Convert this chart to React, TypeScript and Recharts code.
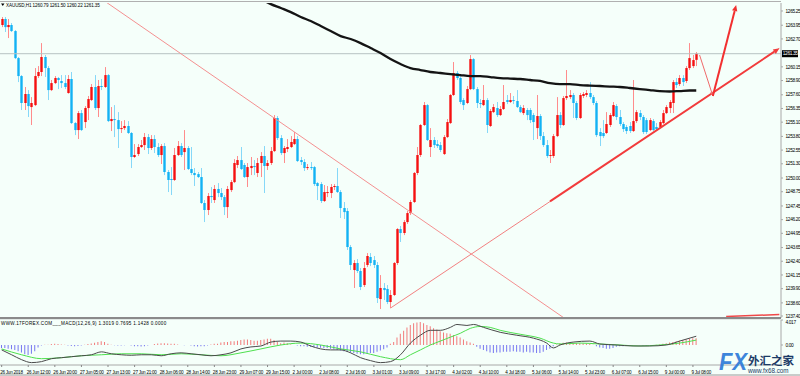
import { ComposedChart, Bar, Line, XAxis, YAxis, ReferenceLine, Cell } from "recharts";

// XAUUSD H1 candles, [open, high, low, close]
const CANDLES: [number, number, number, number][] = [
  [1263.97, 1264.70, 1263.78, 1264.52], [1264.52, 1264.70, 1263.33, 1263.78], [1263.78, 1264.52, 1262.78, 1263.97],
  [1263.97, 1264.15, 1263.33, 1263.42], [1263.42, 1263.51, 1260.86, 1260.95], [1260.95, 1261.05, 1258.76, 1259.31],
  [1259.31, 1259.40, 1256.21, 1256.85], [1256.85, 1258.31, 1256.21, 1257.67], [1257.67, 1258.03, 1255.57, 1256.57],
  [1256.48, 1257.39, 1254.84, 1256.85], [1256.66, 1260.04, 1256.57, 1259.31], [1259.31, 1260.22, 1259.13, 1259.68],
  [1259.68, 1262.32, 1259.31, 1261.05], [1261.05, 1261.23, 1259.22, 1260.04], [1260.04, 1260.22, 1257.12, 1258.03],
  [1258.03, 1258.95, 1257.94, 1258.67], [1258.67, 1259.31, 1258.58, 1259.13], [1259.13, 1259.22, 1258.12, 1258.95],
  [1258.86, 1259.40, 1258.22, 1258.67], [1258.67, 1259.40, 1258.12, 1258.31], [1257.76, 1259.40, 1257.70, 1259.04],
  [1259.04, 1259.68, 1254.93, 1255.02], [1255.02, 1255.11, 1253.92, 1254.38], [1254.38, 1256.12, 1253.56, 1255.93],
  [1255.93, 1256.21, 1254.29, 1254.38], [1255.11, 1256.57, 1254.56, 1256.39], [1256.39, 1257.49, 1255.29, 1257.21],
  [1257.12, 1258.58, 1257.03, 1258.31], [1258.31, 1259.40, 1256.21, 1256.39], [1256.39, 1258.95, 1255.57, 1258.40],
  [1258.40, 1259.04, 1258.03, 1258.31], [1258.31, 1260.13, 1258.22, 1259.40], [1259.40, 1259.49, 1255.11, 1255.20],
  [1255.20, 1256.48, 1254.29, 1255.39], [1255.39, 1256.66, 1253.74, 1255.29], [1255.29, 1256.02, 1252.74, 1254.47],
  [1254.47, 1255.20, 1254.11, 1254.56], [1254.56, 1255.29, 1254.38, 1254.75], [1254.75, 1255.20, 1254.02, 1254.11],
  [1254.11, 1254.20, 1250.91, 1251.92], [1251.92, 1253.10, 1251.83, 1252.10], [1252.19, 1253.10, 1252.01, 1252.83],
  [1252.83, 1253.47, 1252.74, 1253.01], [1253.01, 1254.11, 1252.56, 1253.74], [1253.74, 1254.02, 1252.19, 1252.74],
  [1252.74, 1253.92, 1252.56, 1253.56], [1253.56, 1253.92, 1252.28, 1252.83], [1252.83, 1253.19, 1251.92, 1252.10],
  [1252.10, 1253.10, 1251.28, 1252.92], [1252.92, 1253.19, 1250.27, 1250.55], [1250.55, 1250.73, 1248.72, 1249.82],
  [1249.91, 1251.00, 1248.45, 1249.82], [1249.82, 1252.74, 1249.73, 1252.10], [1252.10, 1253.38, 1252.01, 1252.92],
  [1252.92, 1253.19, 1251.92, 1252.10], [1252.37, 1254.38, 1250.73, 1252.74], [1252.74, 1252.92, 1250.73, 1250.82],
  [1250.82, 1252.83, 1250.27, 1250.46], [1250.46, 1250.91, 1249.27, 1250.27], [1250.36, 1250.55, 1250.00, 1250.09],
  [1250.09, 1250.91, 1247.63, 1247.72], [1247.72, 1247.99, 1245.98, 1247.08], [1247.08, 1248.63, 1246.62, 1248.36],
  [1248.36, 1249.18, 1247.72, 1248.26], [1247.99, 1249.36, 1247.72, 1249.00], [1249.00, 1249.54, 1248.26, 1248.63],
  [1248.63, 1249.09, 1247.99, 1248.26], [1248.26, 1248.45, 1246.62, 1247.35], [1247.35, 1249.27, 1246.35, 1249.00],
  [1248.90, 1249.82, 1248.72, 1249.63], [1249.63, 1251.73, 1249.54, 1251.37], [1251.19, 1252.01, 1250.91, 1251.64],
  [1251.64, 1252.83, 1250.73, 1250.82], [1251.19, 1251.37, 1250.00, 1250.09], [1250.09, 1251.37, 1249.18, 1251.00],
  [1250.91, 1251.92, 1250.27, 1251.10], [1251.10, 1251.64, 1250.27, 1251.00], [1250.46, 1251.83, 1250.09, 1251.37],
  [1251.37, 1252.37, 1250.09, 1252.01], [1252.01, 1252.92, 1248.63, 1251.10], [1251.10, 1251.64, 1250.73, 1251.37],
  [1251.37, 1252.83, 1251.19, 1252.46], [1252.46, 1255.75, 1252.37, 1255.48], [1255.48, 1255.66, 1253.47, 1253.65],
  [1253.65, 1253.92, 1252.10, 1252.28], [1252.28, 1252.92, 1251.37, 1252.74], [1252.65, 1253.56, 1252.37, 1252.83],
  [1252.83, 1253.83, 1252.74, 1253.29], [1253.10, 1254.20, 1253.01, 1253.56], [1253.56, 1253.83, 1251.46, 1251.55],
  [1251.64, 1251.92, 1251.19, 1251.46], [1251.46, 1251.73, 1250.64, 1250.91], [1250.91, 1251.28, 1250.73, 1251.00],
  [1251.00, 1251.46, 1250.73, 1250.91], [1251.00, 1251.10, 1249.27, 1249.45], [1249.54, 1249.63, 1247.99, 1249.27],
  [1249.45, 1249.63, 1247.72, 1247.90], [1247.90, 1249.36, 1247.81, 1248.72], [1248.63, 1249.27, 1248.26, 1248.72],
  [1248.63, 1249.45, 1248.17, 1249.18], [1249.18, 1249.45, 1248.90, 1249.27], [1249.27, 1250.91, 1248.63, 1248.72],
  [1248.72, 1248.90, 1246.35, 1247.26], [1247.26, 1247.81, 1246.26, 1246.89], [1246.99, 1247.26, 1243.43, 1243.70],
  [1243.70, 1243.88, 1241.60, 1242.06], [1241.60, 1242.51, 1239.96, 1242.24], [1242.24, 1242.60, 1241.33, 1241.51],
  [1241.51, 1241.78, 1239.77, 1240.05], [1240.23, 1242.33, 1240.05, 1241.78], [1242.06, 1243.15, 1241.87, 1242.88],
  [1242.79, 1243.15, 1241.96, 1242.24], [1242.51, 1242.88, 1241.78, 1242.06], [1242.06, 1242.33, 1238.59, 1239.04],
  [1238.95, 1241.14, 1238.04, 1239.96], [1239.96, 1240.41, 1238.86, 1239.77], [1239.87, 1240.23, 1238.49, 1238.68],
  [1238.68, 1239.77, 1238.13, 1239.32], [1239.32, 1242.33, 1239.23, 1242.24], [1242.24, 1245.43, 1242.06, 1245.34],
  [1245.34, 1245.62, 1244.16, 1244.98], [1244.98, 1246.16, 1244.79, 1245.98], [1245.98, 1246.99, 1245.80, 1246.80],
  [1246.80, 1247.99, 1246.62, 1247.81], [1247.81, 1250.55, 1247.72, 1250.46], [1250.46, 1252.83, 1250.27, 1252.10],
  [1252.10, 1254.93, 1251.92, 1254.84], [1254.84, 1256.94, 1254.75, 1256.66], [1256.66, 1256.75, 1253.38, 1253.47],
  [1252.83, 1254.56, 1251.92, 1253.47], [1253.47, 1253.74, 1252.74, 1253.01], [1253.10, 1253.47, 1252.74, 1252.92],
  [1253.01, 1253.29, 1252.37, 1252.56], [1252.19, 1253.92, 1252.10, 1253.74], [1253.74, 1255.39, 1253.65, 1255.11],
  [1255.02, 1257.67, 1254.93, 1257.58], [1257.58, 1260.59, 1257.49, 1259.59], [1259.59, 1259.77, 1258.95, 1259.13],
  [1259.13, 1259.31, 1256.75, 1256.94], [1257.12, 1257.30, 1256.21, 1256.66], [1256.85, 1258.40, 1256.75, 1258.12],
  [1258.12, 1261.23, 1258.03, 1260.86], [1260.86, 1260.95, 1258.03, 1258.12], [1258.12, 1258.31, 1256.39, 1256.85],
  [1256.85, 1257.21, 1256.39, 1256.75], [1256.66, 1258.49, 1256.57, 1257.12], [1257.12, 1257.30, 1254.11, 1254.84],
  [1254.75, 1256.30, 1254.66, 1256.12], [1256.02, 1256.75, 1255.93, 1256.48], [1256.39, 1256.94, 1255.57, 1255.75],
  [1255.75, 1256.57, 1255.66, 1256.30], [1256.30, 1258.49, 1256.21, 1256.94], [1257.12, 1257.58, 1256.75, 1256.94],
  [1256.94, 1257.76, 1256.85, 1257.12], [1257.12, 1257.49, 1256.75, 1257.03], [1257.03, 1258.03, 1256.39, 1256.48],
  [1256.48, 1256.66, 1255.93, 1256.02], [1255.93, 1256.66, 1255.75, 1256.39], [1256.21, 1256.39, 1255.29, 1255.75],
  [1256.21, 1256.39, 1255.02, 1255.29], [1255.75, 1255.93, 1253.47, 1255.11], [1254.56, 1257.58, 1253.56, 1255.66],
  [1255.66, 1255.84, 1253.47, 1253.83], [1253.83, 1254.20, 1252.83, 1253.01], [1253.01, 1253.47, 1251.83, 1252.01],
  [1252.01, 1252.56, 1251.37, 1252.10], [1252.01, 1254.02, 1251.83, 1253.83], [1253.83, 1257.39, 1253.74, 1255.75],
  [1255.75, 1256.02, 1254.56, 1254.84], [1254.84, 1257.49, 1254.75, 1257.30], [1257.30, 1259.86, 1257.12, 1257.49],
  [1257.39, 1258.03, 1257.21, 1257.58], [1257.58, 1257.76, 1255.48, 1256.85], [1256.85, 1257.03, 1255.29, 1255.48],
  [1255.48, 1257.76, 1255.39, 1257.58], [1257.49, 1257.85, 1257.30, 1257.67], [1257.58, 1258.03, 1257.39, 1257.76],
  [1257.76, 1258.76, 1257.21, 1257.39], [1257.39, 1257.58, 1256.66, 1256.85], [1256.85, 1257.03, 1253.74, 1253.92],
  [1254.20, 1254.56, 1252.92, 1253.83], [1254.11, 1255.29, 1253.65, 1253.83], [1254.11, 1256.02, 1254.02, 1254.93],
  [1254.84, 1255.93, 1254.66, 1255.75], [1255.66, 1256.94, 1255.57, 1256.66], [1256.57, 1256.75, 1255.29, 1255.57],
  [1255.57, 1256.21, 1254.75, 1254.93], [1254.93, 1255.11, 1254.20, 1254.47], [1254.66, 1254.84, 1254.02, 1254.29],
  [1254.75, 1255.11, 1254.11, 1254.29], [1254.29, 1258.95, 1254.20, 1255.20], [1255.20, 1256.21, 1255.02, 1256.02],
  [1255.93, 1256.21, 1255.29, 1255.57], [1255.57, 1255.75, 1254.02, 1254.20], [1255.29, 1255.48, 1254.02, 1254.20],
  [1254.38, 1255.48, 1254.29, 1255.29], [1255.20, 1255.39, 1254.29, 1254.38], [1254.66, 1255.02, 1254.29, 1254.47],
  [1254.66, 1255.29, 1254.56, 1255.11], [1255.02, 1256.21, 1254.93, 1255.93], [1255.93, 1256.66, 1255.84, 1256.48],
  [1256.39, 1257.12, 1255.93, 1256.94], [1256.85, 1258.95, 1255.93, 1258.76], [1258.76, 1259.13, 1258.22, 1258.49],
  [1258.58, 1259.40, 1258.40, 1259.13], [1259.13, 1259.40, 1258.40, 1258.76], [1258.86, 1260.22, 1258.67, 1260.04],
  [1260.04, 1262.32, 1259.86, 1260.95], [1260.22, 1261.23, 1260.04, 1260.77], [1260.79, 1261.50, 1260.22, 1261.35],
];

// black moving average, [bar, price]
const MA_POINTS: [number, number][] = [
  [78, 1266.34], [81, 1265.88], [84, 1265.52], [87, 1265.15], [90, 1264.70], [93, 1264.33], [96, 1263.88],
  [99, 1263.42], [102, 1262.96], [105, 1262.69], [108, 1262.32], [111, 1261.87], [114, 1261.41], [117, 1260.86],
  [120, 1260.41], [123, 1260.04], [126, 1259.86], [129, 1259.68], [132, 1259.59], [135, 1259.49], [138, 1259.40],
  [141, 1259.31], [144, 1259.31], [147, 1259.22], [150, 1259.13], [153, 1259.08], [156, 1259.04], [159, 1258.95],
  [162, 1258.86], [165, 1258.67], [168, 1258.58], [171, 1258.58], [174, 1258.49], [177, 1258.44], [180, 1258.40],
  [183, 1258.35], [186, 1258.31], [189, 1258.22], [192, 1258.12], [195, 1258.03], [198, 1257.94], [201, 1257.90],
  [204, 1257.94], [207, 1257.99], [209, 1257.99],
];

// MACD histogram, one per bar
const HIST: number[] = [
  -0.5, -0.5, -0.6, -0.7, -0.8, -1.0, -1.2, -1.5, -1.6, -1.4, -1.0, -0.4, -0.1, 0.05, 0.05, 0.15, 0.2, 0.15, 0.1, 0.05,
  -0.1, -0.15, -0.2, -0.15, -0.1, 0.05, 0.15, 0.25, 0.35, 0.5, 0.6, 0.5, 0.2, 0.05, -0.05, -0.1, -0.1, -0.05, 0.0, -0.1,
  -0.2, -0.2, -0.25, -0.2, -0.1, 0.0, 0.15, 0.25, 0.3, 0.3, 0.25, 0.2, 0.2, 0.1, 0.0, -0.05, 0.0, -0.1, -0.2, -0.25,
  -0.2, -0.2, -0.1, 0.1, 0.2, 0.2, 0.4, 0.5, 0.5, 0.6, 0.6, 0.7, 0.8, 0.9, 0.9, 0.8, 0.7, 0.7, 0.8, 0.9,
  1.0, 1.0, 0.8, 0.5, 0.3, 0.4, 0.3, 0.1, 0.0, -0.1, -0.2, -0.2, -0.3, -0.3, -0.35, -0.4, -0.45, -0.5, -0.5, -0.6,
  -0.7, -0.8, -0.9, -1.0, -1.1, -1.2, -1.3, -1.4, -1.5, -1.5, -1.4, -1.3, -1.3, -1.1, -0.9, -0.7, -0.4, 0.2, 0.5, 1.2,
  1.8, 2.3, 2.8, 3.2, 3.5, 3.6, 3.7, 3.5, 3.2, 3.0, 2.7, 2.5, 2.2, 2.0, 1.9, 1.8, 1.6, 1.4, 1.2, 0.9,
  0.6, 0.4, 0.2, -0.3, -0.6, -0.8, -1.0, -1.2, -1.3, -1.2, -1.2, -1.1, -1.1, -1.1, -1.0, -1.1, -1.1, -1.2, -1.1, -1.2,
  -1.2, -1.3, -1.3, -1.1, -0.8, -0.6, -0.2, 0.1, 0.3, 0.35, 0.4, 0.35, 0.35, 0.3, 0.3, 0.25, 0.2, 0.15, 0.05, -0.2,
  -0.4, -0.5, -0.6, -0.6, -0.5, -0.3, -0.2, -0.2, -0.1, -0.1, -0.05, 0.0, -0.05, -0.1, -0.1, -0.05, 0.0, 0.05, 0.1, 0.2,
  0.3, 0.4, 0.5, 0.6, 0.7, 0.8, 0.9, 1.0, 1.1, 1.1,
];

const MACD_POINTS: [number, number][] = [
  [0, -0.79], [3, -1.57], [6, -2.36], [9, -2.83], [12, -2.67], [15, -2.2], [18, -2.04], [21, -1.88], [24, -1.73],
  [27, -1.57], [30, -1.1], [33, -1.41], [36, -1.57], [39, -1.65], [42, -1.57], [45, -1.57], [48, -1.73], [51, -1.41],
  [54, -1.26], [57, -1.41], [60, -1.57], [63, -1.73], [66, -1.57], [69, -1.26], [72, -0.63], [75, -0.31], [78, -0.16],
  [81, 0.47], [84, 0.63], [87, 0.63], [90, 0.47], [93, -0.16], [96, -0.63], [99, -0.79], [102, -0.79], [105, -1.26],
  [108, -2.04], [111, -2.51], [114, -2.83], [117, -2.67], [120, -1.57], [123, 0.31], [126, 1.57], [129, 2.36],
  [132, 2.36], [135, 2.83], [137, 3.3], [140, 3.14], [142, 3.3], [145, 2.83], [150, 2.04], [155, 1.57], [160, 1.1],
  [164, 0.31], [166, -0.47], [168, 0.0], [172, 0.47], [177, 0.63], [180, 0.16], [185, 0.0], [190, -0.16],
  [195, -0.16], [200, 0.0], [204, 0.63], [209, 1.41],
];

const SIGNAL_POINTS: [number, number][] = [
  [0, -0.63], [6, -1.57], [12, -2.2], [18, -2.04], [24, -1.73], [30, -1.57], [36, -1.41], [42, -1.41], [48, -1.57],
  [54, -1.41], [60, -1.57], [66, -1.73], [72, -1.26], [78, -0.63], [84, 0.0], [90, 0.31], [96, 0.0], [102, -0.63],
  [108, -1.1], [114, -1.88], [120, -2.36], [123, -1.57], [126, -0.79], [129, 0.0], [132, 0.63], [135, 1.26],
  [138, 1.88], [141, 2.67], [144, 2.98], [147, 2.83], [150, 2.36], [156, 1.73], [162, 1.1], [166, 0.31], [168, 0.16],
  [174, 0.31], [180, 0.16], [186, 0.0], [192, -0.16], [198, 0.0], [204, 0.31], [209, 0.79],
];

const PRICE_TICKS = [
  1265.25, 1263.95, 1262.7, 1260.15, 1258.9, 1257.6, 1256.35, 1255.1, 1253.8, 1252.55, 1251.3, 1250.0,
  1248.75, 1247.45, 1246.2, 1244.95, 1243.65, 1242.4, 1241.15, 1239.9, 1238.6, 1237.4,
];
const MACD_TICKS = [4.017, 0];

// one label every 8 bars, starting at bar 0
const TIME_LABELS = [
  "26 Jun 2018", "26 Jun 12:00", "26 Jun 20:00", "27 Jun 05:00", "27 Jun 13:00", "27 Jun 21:00", "28 Jun 06:00",
  "28 Jun 14:00", "28 Jun 23:00", "29 Jun 07:00", "29 Jun 15:00", "2 Jul 00:00", "2 Jul 08:00", "2 Jul 16:00",
  "3 Jul 01:00", "3 Jul 09:00", "3 Jul 17:00", "4 Jul 02:00", "4 Jul 10:00", "4 Jul 18:00", "5 Jul 06:00",
  "5 Jul 14:00", "5 Jul 23:00", "6 Jul 07:00", "6 Jul 15:00", "9 Jul 00:00", "9 Jul 08:00",
];

const LAST_PRICE = 1261.35;
const SLOTS = 235; // bars plus the empty shift on the right

const BG = "#f5fffa";
const FONT = "'Liberation Sans', Arial, sans-serif";

const maMap = new Map(MA_POINTS);
const macdMap = new Map(MACD_POINTS);
const sigMap = new Map(SIGNAL_POINTS);

const rows = Array.from({ length: SLOTS }, (_, i) => {
  const k = CANDLES[i];
  return {
    i,
    o: k ? k[0] : null,
    h: k ? k[1] : null,
    l: k ? k[2] : null,
    c: k ? k[3] : null,
    range: k ? [k[2], k[1]] : null,
    ma: maMap.has(i) ? maMap.get(i) : null,
    hist: i < HIST.length ? HIST[i] : null,
    macd: macdMap.has(i) ? macdMap.get(i) : null,
    sig: sigMap.has(i) ? sigMap.get(i) : null,
  };
});

const Candle = (props: any) => {
  const { x, y, width, height, payload } = props;
  if (payload.o == null || !isFinite(y) || !isFinite(height)) return <g />;
  const top = Math.min(y, y + height);
  const bot = Math.max(y, y + height);
  const span = payload.h - payload.l || 1;
  const yOf = (v: number) => top + ((payload.h - v) / span) * (bot - top);
  const cx = Math.round(x + width / 2) + 0.5;
  const up = payload.c >= payload.o;
  const bt = yOf(Math.max(payload.o, payload.c));
  const bb = yOf(Math.min(payload.o, payload.c));
  return (
    <g>
      <line x1={cx} x2={cx} y1={top} y2={bot} stroke={up ? "#ff8c8c" : "#86d8f8"} strokeWidth={1} />
      <rect x={cx - 1.2} y={bt} width={2.4} height={Math.max(1, bb - bt)} fill={up ? "#f51010" : "#12b2f4"} />
    </g>
  );
};

const arrowLine = (color: string, w: number, head: number) => (p: any) => {
  const { x1, y1, x2, y2 } = p;
  const a = Math.atan2(y2 - y1, x2 - x1);
  const bx = x2 - head * Math.cos(a);
  const by = y2 - head * Math.sin(a);
  const nx = -Math.sin(a) * head * 0.45;
  const ny = Math.cos(a) * head * 0.45;
  return (
    <g>
      <line x1={x1} y1={y1} x2={bx} y2={by} stroke={color} strokeWidth={w} />
      <polygon points={`${x2},${y2} ${bx + nx},${by + ny} ${bx - nx},${by - ny}`} fill={color} />
    </g>
  );
};

const PriceTick = (props: any) => {
  const { x, y, payload } = props;
  return (
    <text x={x + 0.5} y={y + 1.7} fontSize={4.8} fontFamily={FONT} fill="#000" letterSpacing={-0.35}>
      {payload.value.toFixed(2)}
    </text>
  );
};

const MacdTick = (props: any) => {
  const { x, y, payload } = props;
  const t = payload.value === 0 ? "0.00" : payload.value.toFixed(3);
  return (
    <text x={x + 0.5} y={y + (payload.value === 0 ? 1.7 : 3.5)} fontSize={4.8} fontFamily={FONT} fill="#000" letterSpacing={-0.35}>
      {t}
    </text>
  );
};

const TimeTick = (props: any) => {
  const { x, y, payload } = props;
  return (
    <text x={x - 1.5} y={y + 4.5} fontSize={4.6} fontFamily={FONT} fill="#000" letterSpacing={-0.25}>
      {TIME_LABELS[payload.value / 8]}
    </text>
  );
};

const PriceTag = (props: any) => {
  const vb = props.viewBox || {};
  const x = (vb.x || 0) + (vb.width || 0);
  const y = vb.y || 0;
  return (
    <g>
      <rect x={x + 1} y={y - 3.5} width={16} height={7} fill="#000" />
      <text x={x + 1.8} y={y + 1.7} fontSize={4.8} fontFamily={FONT} fill="#fff" letterSpacing={-0.35}>
        {LAST_PRICE.toFixed(2)}
      </text>
    </g>
  );
};

export default function App() {
  return (
    <div style={{ position: "absolute", left: 0, top: 0, width: 800, height: 376, background: BG, overflow: "hidden" }}>
      <div style={{ position: "absolute", left: 0, top: 0 }}>
        <ComposedChart width={800} height={318} data={rows} margin={{ top: 3, right: 0, bottom: 0, left: 0 }}>
          <XAxis dataKey="i" type="category" hide />
          <YAxis
            orientation="right"
            width={19}
            domain={[1237.22, 1265.98]}
            allowDataOverflow
            ticks={PRICE_TICKS}
            interval={0}
            tick={<PriceTick />}
            tickSize={2}
            axisLine={{ stroke: "#a8a8a8" }}
            tickLine={{ stroke: "#a8a8a8" }}
          />
          <ReferenceLine y={LAST_PRICE} stroke="#b6c2c2" strokeWidth={1} label={(p: any) => <PriceTag {...p} />} />
          <Bar dataKey="range" shape={<Candle />} barSize={3} isAnimationActive={false} />
          <Line
            dataKey="ma"
            type="monotone"
            stroke="#141414"
            strokeWidth={2.3}
            dot={false}
            connectNulls
            isAnimationActive={false}
          />
          <ReferenceLine
            segment={[{ x: 30, y: 1266.36 }, { x: 170, y: 1237.06 }]}
            stroke="#f49090"
            strokeWidth={1}
            ifOverflow="hidden"
          />
          <ReferenceLine
            segment={[{ x: 117, y: 1238.13 }, { x: 234, y: 1261.84 }]}
            stroke="#f28080"
            strokeWidth={1}
            ifOverflow="hidden"
          />
          <ReferenceLine
            segment={[{ x: 165, y: 1247.87 }, { x: 234, y: 1261.84 }]}
            shape={arrowLine("#f23c3c", 2, 6)}
            ifOverflow="visible"
          />
          <ReferenceLine
            segment={[{ x: 210, y: 1261.23 }, { x: 214, y: 1257.49 }]}
            shape={arrowLine("#f06a6a", 1, 4)}
            ifOverflow="visible"
          />
          <ReferenceLine
            segment={[{ x: 214, y: 1257.49 }, { x: 221, y: 1265.79 }]}
            shape={arrowLine("#f23030", 2, 6)}
            ifOverflow="visible"
          />
          <ReferenceLine
            segment={[{ x: 218, y: 1237.35 }, { x: 234, y: 1237.54 }]}
            stroke="#f04848"
            strokeWidth={1.5}
            ifOverflow="visible"
          />
        </ComposedChart>
      </div>

      <div style={{ position: "absolute", left: 0, top: 319 }}>
        <ComposedChart width={800} height={57} data={rows} margin={{ top: 1, right: 0, bottom: 0, left: 0 }}>
          <XAxis
            dataKey="i"
            type="category"
            interval={0}
            ticks={TIME_LABELS.map((_, k) => k * 8)}
            tick={<TimeTick />}
            height={11}
            tickSize={2}
            axisLine={{ stroke: "#a8a8a8" }}
            tickLine={{ stroke: "#888" }}
          />
          <YAxis
            orientation="right"
            width={19}
            domain={[-3.214, 4.017]}
            allowDataOverflow
            ticks={MACD_TICKS}
            interval={0}
            tick={<MacdTick />}
            tickSize={2}
            axisLine={{ stroke: "#a8a8a8" }}
            tickLine={{ stroke: "#a8a8a8" }}
          />
          <Bar dataKey="hist" barSize={1} isAnimationActive={false}>
            {rows.map((r) => (
              <Cell key={r.i} fill={(r.hist || 0) >= 0 ? "#f27a7a" : "#7676f0"} />
            ))}
          </Bar>
          <Line dataKey="sig" type="monotone" stroke="#4ee04e" strokeWidth={1} dot={false} connectNulls isAnimationActive={false} />
          <Line dataKey="macd" type="monotone" stroke="#4a4a4a" strokeWidth={1} dot={false} connectNulls isAnimationActive={false} />
        </ComposedChart>
      </div>

      <svg width={800} height={376} style={{ position: "absolute", left: 0, top: 0, pointerEvents: "none" }}>
        <line x1={0} x2={781} y1={1.5} y2={1.5} stroke="#b0b0b0" />
        <rect x={0} y={317} width={781} height={2.2} fill="#8a8a8a" />
        <line x1={0} x2={800} y1={375} y2={375} stroke="#9a9a9a" />
        <polygon points="1,3.5 4.5,3.5 2.75,6" fill="#000" />
        <text x={6} y={6.5} fontSize={4.6} fontFamily={FONT} fill="#000" letterSpacing={-0.1}>
          XAUUSD,H1 1260.79 1261.50 1260.22 1261.35
        </text>
        <text x={1} y={325} fontSize={4.6} fontFamily={FONT} fill="#000" letterSpacing={0.3}>
          WWW.17FOREX.COM___MACD(12,26,9) 1.3019 0.7695 1.1428 0.0000
        </text>
        <text
          x={719}
          y={370}
          fontSize={24}
          fontWeight="bold"
          fontStyle="italic"
          fontFamily={FONT}
          fill="#2a78d8"
          opacity={0.9}
          textLength={28}
          lengthAdjust="spacingAndGlyphs"
        >
          FX
        </text>
        <text x={748} y={364.5} fontSize={11.5} fontWeight="bold" fontFamily="'Noto Sans CJK SC', sans-serif" fill="#1b3a66">
          外汇之家
        </text>
        <text x={748} y={373} fontSize={6.3} fontFamily={FONT} fill="#1b3a66">
          www.fx68.com
        </text>
      </svg>
    </div>
  );
}
